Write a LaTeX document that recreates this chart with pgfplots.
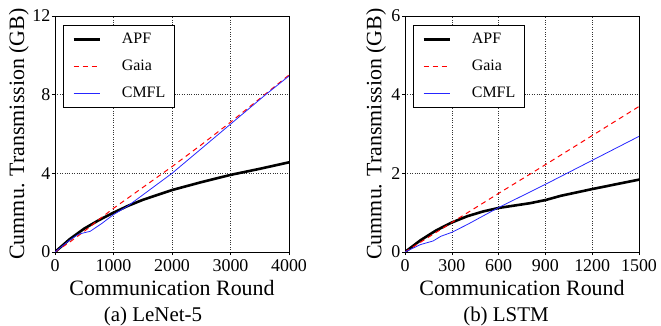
\documentclass[border=0pt]{standalone}
\usepackage{pgfplots}
\pgfplotsset{compat=1.18}
\usepackage{fontspec}
\setmainfont{Liberation Serif}
\definecolor{cmflblue}{rgb}{0.15,0.15,1}
\pgfplotsset{
  mystyle/.style={
    width=234bp, height=236bp, scale only axis,
    grid=major,
    major grid style={black!80, dotted, line width=0.6pt},
    axis line style={line width=0.8pt},
    tick align=outside, major tick length=3bp,
    tick style={black, line width=0.6pt},
    xtick pos=left, ytick pos=left,
    /pgf/number format/assume math mode=true,
    /pgf/number format/1000 sep={},
    tick label style={font=\fontsize{18}{19}\selectfont},
    xticklabel style={inner sep=2bp, yshift=-2bp},
    yticklabel style={inner sep=1.5bp},
    label style={font=\fontsize{22}{23}\selectfont},
    xlabel={Communication Round},
    ylabel={Cummu. Transmission (GB)},
    xlabel style={at={(axis description cs:0.5,0)}, anchor=base, yshift=-43bp},
    legend style={at={(8bp,227bp)}, anchor=north west, draw=black, line width=0.6pt,
      font=\fontsize{16}{17}\selectfont, row sep=15bp, column sep=21bp,
      inner xsep=9bp, inner ysep=8bp,
      nodes={inner sep=0pt}},
    legend cell align=left,
    legend image code/.code={\draw[##1] (0bp,0bp) -- (26bp,0bp);},
  },
  apf/.style={black, line width=2.6pt},
  gaia/.style={red, line width=1pt, dash pattern=on 5bp off 4bp},
  cmfl/.style={cmflblue, line width=0.8pt},
}
\begin{document}
\begin{tikzpicture}
\path[use as bounding box] (-55bp,-74bp) rectangle (606bp,252bp);
\begin{axis}[mystyle, xmin=0, xmax=4000, ymin=0, ymax=12,
  xtick={0,1000,2000,3000,4000}, ytick={0,4,8,12},
  ylabel style={at={(axis description cs:-0.154,0.5)}, anchor=center}]
\addplot[apf] coordinates {(0,0) (250,0.65) (500,1.19) (750,1.62) (1000,2.0) (1250,2.35) (1500,2.65) (2000,3.15) (2500,3.55) (3000,3.92) (3500,4.23) (4000,4.56)};
\addlegendentry{APF}
\addplot[gaia] coordinates {(0,0) (250,0.5) (500,1.05) (750,1.65) (1000,2.22) (1500,3.28) (2000,4.34) (2500,5.45) (3000,6.6) (3500,7.8) (4000,9.0)};
\addlegendentry{Gaia}
\addplot[cmfl] coordinates {(0,0) (250,0.6) (400,0.9) (500,0.98) (600,1.05) (800,1.45) (1000,1.9) (1250,2.35) (1500,2.9) (2000,4.0) (2500,5.25) (3000,6.5) (3600,8.0) (4000,8.95)};
\addlegendentry{CMFL}
\end{axis}
\node[font=\fontsize{21}{22}\selectfont, anchor=base] at (98bp,-69bp) {(a) LeNet-5};
\begin{scope}[xshift=350bp]
\begin{axis}[mystyle, xmin=0, xmax=1500, ymin=0, ymax=6,
  xtick={0,300,600,900,1200,1500}, ytick={0,2,4,6},
  ylabel style={at={(axis description cs:-0.123,0.5)}, anchor=center}]
\addplot[apf] coordinates {(0,0) (100,0.3) (200,0.55) (300,0.75) (400,0.91) (500,1.03) (600,1.12) (700,1.18) (800,1.24) (900,1.32) (1000,1.43) (1200,1.6) (1500,1.84)};
\addlegendentry{APF}
\addplot[gaia] coordinates {(0,0) (300,0.75) (600,1.49) (900,2.22) (1200,2.96) (1500,3.7)};
\addlegendentry{Gaia}
\addplot[cmfl] coordinates {(0,0) (100,0.19) (180,0.28) (230,0.4) (300,0.5) (400,0.7) (600,1.13) (900,1.72) (1200,2.33) (1500,2.94)};
\addlegendentry{CMFL}
\end{axis}
\node[font=\fontsize{21}{22}\selectfont, anchor=base] at (101bp,-69bp) {(b) LSTM};
\end{scope}
\end{tikzpicture}
\end{document}
